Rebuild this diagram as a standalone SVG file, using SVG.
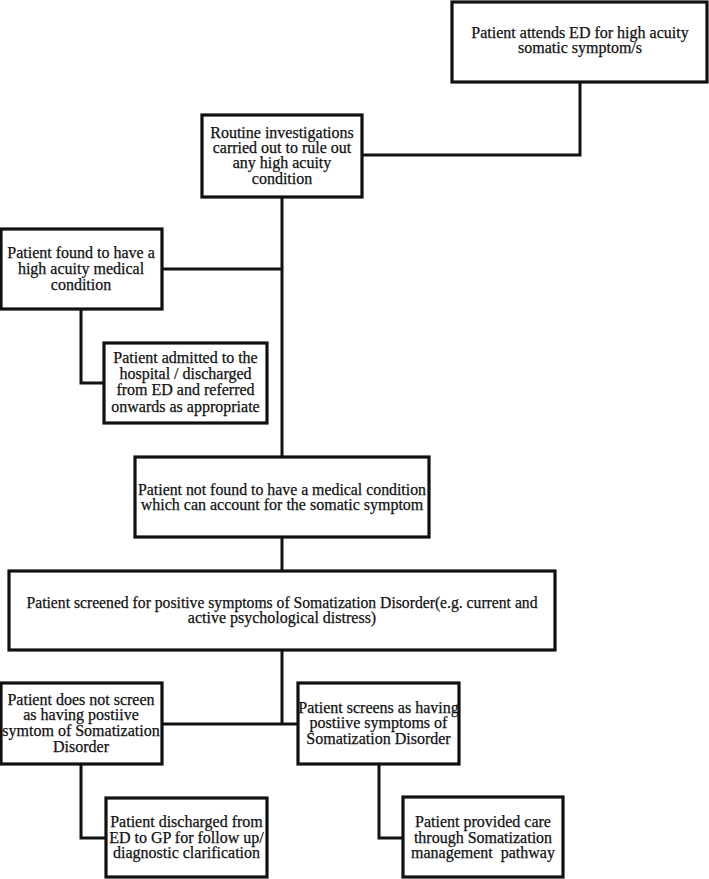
<svg xmlns="http://www.w3.org/2000/svg" width="709" height="879" viewBox="0 0 709 879">
<style>
.box{fill:#fff;stroke:#111;stroke-width:3.2}
.ln{fill:none;stroke:#111;stroke-width:3}
text{font-family:"Liberation Serif","Times New Roman",serif;font-size:16px;fill:#111;stroke:#111;stroke-width:0.25;text-anchor:middle}
</style>
<rect width="709" height="879" fill="#fff"/>
<g id="connectors">
<polyline class="ln" points="580,82 580,155 362,155"/>
<line class="ln" x1="282" y1="197" x2="282" y2="457"/>
<line class="ln" x1="162" y1="269" x2="282" y2="269"/>
<polyline class="ln" points="81,309 81,383 104,383"/>
<line class="ln" x1="282" y1="537" x2="282" y2="571"/>
<line class="ln" x1="282" y1="650" x2="282" y2="724"/>
<line class="ln" x1="162" y1="724" x2="298" y2="724"/>
<polyline class="ln" points="81,764 81,838 106,838"/>
<polyline class="ln" points="379,764 379,838 403,838"/>
</g>
<g id="n1"><rect class="box" x="452" y="2" width="255" height="80"/>
<text x="580" y="38">Patient attends ED for high acuity</text><text x="580" y="53">somatic symptom/s</text></g>
<g id="n2"><rect class="box" x="202" y="115" width="160" height="82"/>
<text x="282" y="138">Routine investigations</text><text x="282" y="153">carried out to rule out</text><text x="282" y="168">any high acuity</text><text x="282" y="184">condition</text></g>
<g id="n3"><rect class="box" x="1" y="229" width="161" height="80"/>
<text x="81" y="258">Patient found to have a</text><text x="81" y="274">high acuity medical</text><text x="81" y="290">condition</text></g>
<g id="n4"><rect class="box" x="104" y="343" width="163" height="80"/>
<text x="185.5" y="363">Patient admitted to the</text><text x="185.5" y="379">hospital / discharged</text><text x="185.5" y="395">from ED and referred</text><text x="185.5" y="412">onwards as appropriate</text></g>
<g id="n5"><rect class="box" x="135" y="457" width="294" height="80"/>
<text x="282" y="495" textLength="288" lengthAdjust="spacingAndGlyphs">Patient not found to have a medical condition</text><text x="282" y="510">which can account for the somatic symptom</text></g>
<g id="n6"><rect class="box" x="9" y="571" width="546" height="79"/>
<text x="282" y="608" textLength="511" lengthAdjust="spacingAndGlyphs">Patient screened for positive symptoms of Somatization Disorder(e.g. current and</text><text x="282" y="623">active psychological distress)</text></g>
<g id="n7"><rect class="box" x="1" y="683" width="161" height="81"/>
<text x="81" y="705">Patient does not screen</text><text x="81" y="720">as having postiive</text><text x="81" y="736">symtom of Somatization</text><text x="81" y="752">Disorder</text></g>
<g id="n8"><rect class="box" x="298" y="683" width="161" height="81"/>
<text x="378.5" y="713">Patient screens as having</text><text x="378.5" y="728">postiive symptoms of</text><text x="378.5" y="744">Somatization Disorder</text></g>
<g id="n9"><rect class="box" x="106" y="798" width="161" height="79"/>
<text x="186.5" y="827">Patient discharged from</text><text x="186.5" y="843">ED to GP for follow up/</text><text x="186.5" y="858">diagnostic clarification</text></g>
<g id="n10"><rect class="box" x="403" y="797" width="160" height="80"/>
<text x="483" y="827">Patient provided care</text><text x="483" y="843">through Somatization</text><text x="483" y="858" xml:space="preserve">management  pathway</text></g>
</svg>
